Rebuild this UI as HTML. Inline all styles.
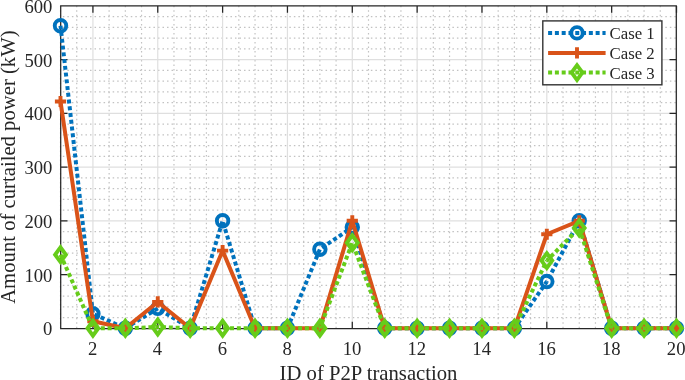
<!DOCTYPE html>
<html><head><meta charset="utf-8"><title>Curtailed power chart</title>
<style>
html,body{margin:0;padding:0;background:#fff;}
body{width:685px;height:380px;overflow:hidden;}
svg{display:block;will-change:transform;filter:blur(0.3px);}
text{font-family:"Liberation Serif",serif;fill:#262626;}
</style></head>
<body>
<svg width="685" height="380" viewBox="0 0 685 380">
<rect width="685" height="380" fill="#fff"/>
<g><path d="M60.50 5.80V328.30M76.71 5.80V328.30M109.13 5.80V328.30M125.34 5.80V328.30M141.55 5.80V328.30M173.97 5.80V328.30M190.18 5.80V328.30M206.39 5.80V328.30M238.82 5.80V328.30M255.03 5.80V328.30M271.24 5.80V328.30M303.66 5.80V328.30M319.87 5.80V328.30M336.08 5.80V328.30M368.50 5.80V328.30M384.71 5.80V328.30M400.92 5.80V328.30M433.34 5.80V328.30M449.55 5.80V328.30M465.76 5.80V328.30M498.18 5.80V328.30M514.39 5.80V328.30M530.61 5.80V328.30M563.03 5.80V328.30M579.24 5.80V328.30M595.45 5.80V328.30M627.87 5.80V328.30M644.08 5.80V328.30M660.29 5.80V328.30" stroke="#c2c2c2" stroke-width="1.2" stroke-dasharray="1.5 3.02" fill="none"/><path d="M60.50 317.55H676.50M60.50 306.80H676.50M60.50 296.05H676.50M60.50 285.30H676.50M60.50 263.80H676.50M60.50 253.05H676.50M60.50 242.30H676.50M60.50 231.55H676.50M60.50 210.05H676.50M60.50 199.30H676.50M60.50 188.55H676.50M60.50 177.80H676.50M60.50 156.30H676.50M60.50 145.55H676.50M60.50 134.80H676.50M60.50 124.05H676.50M60.50 102.55H676.50M60.50 91.80H676.50M60.50 81.05H676.50M60.50 70.30H676.50M60.50 48.80H676.50M60.50 38.05H676.50M60.50 27.30H676.50M60.50 16.55H676.50" stroke="#c2c2c2" stroke-width="1.2" stroke-dasharray="1.5 3.03" stroke-dashoffset="2.2" fill="none"/><path d="M92.92 5.80V328.30M157.76 5.80V328.30M222.61 5.80V328.30M287.45 5.80V328.30M352.29 5.80V328.30M417.13 5.80V328.30M481.97 5.80V328.30M546.82 5.80V328.30M611.66 5.80V328.30M676.50 5.80V328.30M60.50 274.55H676.50M60.50 220.80H676.50M60.50 167.05H676.50M60.50 113.30H676.50M60.50 59.55H676.50" stroke="#dfdfdf" stroke-width="1.2" fill="none"/></g>
<g><path d="M60.7 5.95H676.3V328.5H60.7Z" fill="none" stroke="#262626" stroke-width="1.25"/><path d="M92.92 328.50V321.70M92.92 5.95V12.75M157.76 328.50V321.70M157.76 5.95V12.75M222.61 328.50V321.70M222.61 5.95V12.75M287.45 328.50V321.70M287.45 5.95V12.75M352.29 328.50V321.70M352.29 5.95V12.75M417.13 328.50V321.70M417.13 5.95V12.75M481.97 328.50V321.70M481.97 5.95V12.75M546.82 328.50V321.70M546.82 5.95V12.75M611.66 328.50V321.70M611.66 5.95V12.75M676.50 328.50V321.70M676.50 5.95V12.75M60.70 274.55H67.50M676.30 274.55H669.50M60.70 220.80H67.50M676.30 220.80H669.50M60.70 167.05H67.50M676.30 167.05H669.50M60.70 113.30H67.50M676.30 113.30H669.50M60.70 59.55H67.50M676.30 59.55H669.50" stroke="#262626" stroke-width="1.25" fill="none"/></g>
<g><g fill="none" stroke="#0072BD" stroke-width="4.0" stroke-dasharray="4.0 2.79"><path d="M60.50 25.69L92.92 313.79" stroke-dashoffset="0.32"/><path d="M92.92 313.79L125.34 328.30" stroke-dashoffset="5.06"/><path d="M125.34 328.30L157.76 308.41" stroke-dashoffset="6.63"/><path d="M157.76 308.41L190.18 328.30" stroke-dashoffset="3.92"/><path d="M190.18 328.30L222.61 220.80" stroke-dashoffset="1.22"/><path d="M222.61 220.80L255.03 328.30" stroke-dashoffset="4.86"/><path d="M255.03 328.30L287.45 328.30" stroke-dashoffset="1.71"/><path d="M287.45 328.30L319.87 249.29" stroke-dashoffset="0.18"/><path d="M319.87 249.29L352.29 227.25" stroke-dashoffset="4.11"/><path d="M352.29 227.25L384.71 328.30" stroke-dashoffset="2.57"/><path d="M384.71 328.30L417.13 328.30" stroke-dashoffset="0.06"/><path d="M417.13 328.30L449.55 328.30" stroke-dashoffset="5.32"/><path d="M449.55 328.30L481.97 328.30" stroke-dashoffset="3.79"/><path d="M481.97 328.30L514.39 328.30" stroke-dashoffset="2.26"/><path d="M514.39 328.30L546.82 281.54" stroke-dashoffset="0.73"/><path d="M546.82 281.54L579.24 220.80" stroke-dashoffset="3.31"/><path d="M579.24 220.80L611.66 328.30" stroke-dashoffset="4.26"/><path d="M611.66 328.30L644.08 328.30" stroke-dashoffset="1.11"/><path d="M644.08 328.30L676.50 328.30" stroke-dashoffset="6.37"/></g><circle cx="60.50" cy="25.69" r="5.75" fill="none" stroke="#0072BD" stroke-width="3.9"/><circle cx="92.92" cy="313.79" r="5.75" fill="none" stroke="#0072BD" stroke-width="3.9"/><circle cx="125.34" cy="328.30" r="5.75" fill="none" stroke="#0072BD" stroke-width="3.9"/><circle cx="157.76" cy="308.41" r="5.75" fill="none" stroke="#0072BD" stroke-width="3.9"/><circle cx="190.18" cy="328.30" r="5.75" fill="none" stroke="#0072BD" stroke-width="3.9"/><circle cx="222.61" cy="220.80" r="5.75" fill="none" stroke="#0072BD" stroke-width="3.9"/><circle cx="255.03" cy="328.30" r="5.75" fill="none" stroke="#0072BD" stroke-width="3.9"/><circle cx="287.45" cy="328.30" r="5.75" fill="none" stroke="#0072BD" stroke-width="3.9"/><circle cx="319.87" cy="249.29" r="5.75" fill="none" stroke="#0072BD" stroke-width="3.9"/><circle cx="352.29" cy="227.25" r="5.75" fill="none" stroke="#0072BD" stroke-width="3.9"/><circle cx="384.71" cy="328.30" r="5.75" fill="none" stroke="#0072BD" stroke-width="3.9"/><circle cx="417.13" cy="328.30" r="5.75" fill="none" stroke="#0072BD" stroke-width="3.9"/><circle cx="449.55" cy="328.30" r="5.75" fill="none" stroke="#0072BD" stroke-width="3.9"/><circle cx="481.97" cy="328.30" r="5.75" fill="none" stroke="#0072BD" stroke-width="3.9"/><circle cx="514.39" cy="328.30" r="5.75" fill="none" stroke="#0072BD" stroke-width="3.9"/><circle cx="546.82" cy="281.54" r="5.75" fill="none" stroke="#0072BD" stroke-width="3.9"/><circle cx="579.24" cy="220.80" r="5.75" fill="none" stroke="#0072BD" stroke-width="3.9"/><circle cx="611.66" cy="328.30" r="5.75" fill="none" stroke="#0072BD" stroke-width="3.9"/><circle cx="644.08" cy="328.30" r="5.75" fill="none" stroke="#0072BD" stroke-width="3.9"/><circle cx="676.50" cy="328.30" r="5.75" fill="none" stroke="#0072BD" stroke-width="3.9"/><polyline points="60.50,101.48 92.92,321.31 125.34,328.30 157.76,301.96 190.18,328.30 222.61,250.63 255.03,328.30 287.45,328.30 319.87,328.30 352.29,220.80 384.71,328.30 417.13,328.30 449.55,328.30 481.97,328.30 514.39,328.30 546.82,234.24 579.24,220.80 611.66,328.30 644.08,328.30 676.50,328.30" fill="none" stroke="#D95319" stroke-width="4.0" stroke-linejoin="round"/><path d="M54.90 101.48H66.10M60.50 95.88V107.08" stroke="#D95319" stroke-width="3.9" fill="none"/><path d="M87.32 321.31H98.52M92.92 315.71V326.91" stroke="#D95319" stroke-width="3.9" fill="none"/><path d="M119.74 328.30H130.94M125.34 322.70V333.90" stroke="#D95319" stroke-width="3.9" fill="none"/><path d="M152.16 301.96H163.36M157.76 296.36V307.56" stroke="#D95319" stroke-width="3.9" fill="none"/><path d="M184.58 328.30H195.78M190.18 322.70V333.90" stroke="#D95319" stroke-width="3.9" fill="none"/><path d="M217.01 250.63H228.21M222.61 245.03V256.23" stroke="#D95319" stroke-width="3.9" fill="none"/><path d="M249.43 328.30H260.63M255.03 322.70V333.90" stroke="#D95319" stroke-width="3.9" fill="none"/><path d="M281.85 328.30H293.05M287.45 322.70V333.90" stroke="#D95319" stroke-width="3.9" fill="none"/><path d="M314.27 328.30H325.47M319.87 322.70V333.90" stroke="#D95319" stroke-width="3.9" fill="none"/><path d="M346.69 220.80H357.89M352.29 215.20V226.40" stroke="#D95319" stroke-width="3.9" fill="none"/><path d="M379.11 328.30H390.31M384.71 322.70V333.90" stroke="#D95319" stroke-width="3.9" fill="none"/><path d="M411.53 328.30H422.73M417.13 322.70V333.90" stroke="#D95319" stroke-width="3.9" fill="none"/><path d="M443.95 328.30H455.15M449.55 322.70V333.90" stroke="#D95319" stroke-width="3.9" fill="none"/><path d="M476.37 328.30H487.57M481.97 322.70V333.90" stroke="#D95319" stroke-width="3.9" fill="none"/><path d="M508.79 328.30H519.99M514.39 322.70V333.90" stroke="#D95319" stroke-width="3.9" fill="none"/><path d="M541.22 234.24H552.42M546.82 228.64V239.84" stroke="#D95319" stroke-width="3.9" fill="none"/><path d="M573.64 220.80H584.84M579.24 215.20V226.40" stroke="#D95319" stroke-width="3.9" fill="none"/><path d="M606.06 328.30H617.26M611.66 322.70V333.90" stroke="#D95319" stroke-width="3.9" fill="none"/><path d="M638.48 328.30H649.68M644.08 322.70V333.90" stroke="#D95319" stroke-width="3.9" fill="none"/><path d="M670.90 328.30H682.10M676.50 322.70V333.90" stroke="#D95319" stroke-width="3.9" fill="none"/><g fill="none" stroke="#66CC1A" stroke-width="4.0" stroke-dasharray="4.0 2.805"><path d="M60.50 254.66L92.92 328.30" stroke-dashoffset="0.12"/><path d="M92.92 328.30L125.34 328.30" stroke-dashoffset="5.72"/><path d="M125.34 328.30L157.76 326.96" stroke-dashoffset="4.12"/><path d="M157.76 326.96L190.18 328.30" stroke-dashoffset="2.54"/><path d="M190.18 328.30L222.61 328.30" stroke-dashoffset="0.97"/><path d="M222.61 328.30L255.03 328.30" stroke-dashoffset="6.17"/><path d="M255.03 328.30L287.45 328.30" stroke-dashoffset="4.56"/><path d="M287.45 328.30L319.87 328.30" stroke-dashoffset="2.96"/><path d="M319.87 328.30L352.29 242.73" stroke-dashoffset="1.36"/><path d="M352.29 242.73L384.71 328.30" stroke-dashoffset="4.40"/><path d="M384.71 328.30L417.13 328.30" stroke-dashoffset="0.63"/><path d="M417.13 328.30L449.55 328.30" stroke-dashoffset="5.83"/><path d="M449.55 328.30L481.97 328.30" stroke-dashoffset="4.23"/><path d="M481.97 328.30L514.39 328.30" stroke-dashoffset="2.63"/><path d="M514.39 328.30L546.82 260.58" stroke-dashoffset="1.02"/><path d="M546.82 260.58L579.24 227.95" stroke-dashoffset="1.25"/><path d="M579.24 227.95L611.66 328.30" stroke-dashoffset="6.42"/><path d="M611.66 328.30L644.08 328.30" stroke-dashoffset="3.00"/><path d="M644.08 328.30L676.50 328.30" stroke-dashoffset="1.39"/></g><path d="M60.50 243.96L68.30 254.66L60.50 265.36L52.70 254.66ZM60.50 250.61L57.55 254.66L60.50 258.71L63.45 254.66Z" fill="#66CC1A" fill-rule="evenodd"/><path d="M92.92 317.60L100.72 328.30L92.92 339.00L85.12 328.30ZM92.92 324.25L89.97 328.30L92.92 332.35L95.87 328.30Z" fill="#66CC1A" fill-rule="evenodd"/><path d="M125.34 317.60L133.14 328.30L125.34 339.00L117.54 328.30ZM125.34 324.25L122.39 328.30L125.34 332.35L128.29 328.30Z" fill="#66CC1A" fill-rule="evenodd"/><path d="M157.76 316.26L165.56 326.96L157.76 337.66L149.96 326.96ZM157.76 322.91L154.81 326.96L157.76 331.01L160.71 326.96Z" fill="#66CC1A" fill-rule="evenodd"/><path d="M190.18 317.60L197.98 328.30L190.18 339.00L182.38 328.30ZM190.18 324.25L187.23 328.30L190.18 332.35L193.13 328.30Z" fill="#66CC1A" fill-rule="evenodd"/><path d="M222.61 317.60L230.41 328.30L222.61 339.00L214.81 328.30ZM222.61 324.25L219.66 328.30L222.61 332.35L225.56 328.30Z" fill="#66CC1A" fill-rule="evenodd"/><path d="M255.03 317.60L262.83 328.30L255.03 339.00L247.23 328.30ZM255.03 324.25L252.08 328.30L255.03 332.35L257.98 328.30Z" fill="#66CC1A" fill-rule="evenodd"/><path d="M287.45 317.60L295.25 328.30L287.45 339.00L279.65 328.30ZM287.45 324.25L284.50 328.30L287.45 332.35L290.40 328.30Z" fill="#66CC1A" fill-rule="evenodd"/><path d="M319.87 317.60L327.67 328.30L319.87 339.00L312.07 328.30ZM319.87 324.25L316.92 328.30L319.87 332.35L322.82 328.30Z" fill="#66CC1A" fill-rule="evenodd"/><path d="M352.29 232.03L360.09 242.73L352.29 253.43L344.49 242.73ZM352.29 238.68L349.34 242.73L352.29 246.78L355.24 242.73Z" fill="#66CC1A" fill-rule="evenodd"/><path d="M384.71 317.60L392.51 328.30L384.71 339.00L376.91 328.30ZM384.71 324.25L381.76 328.30L384.71 332.35L387.66 328.30Z" fill="#66CC1A" fill-rule="evenodd"/><path d="M417.13 317.60L424.93 328.30L417.13 339.00L409.33 328.30ZM417.13 324.25L414.18 328.30L417.13 332.35L420.08 328.30Z" fill="#66CC1A" fill-rule="evenodd"/><path d="M449.55 317.60L457.35 328.30L449.55 339.00L441.75 328.30ZM449.55 324.25L446.60 328.30L449.55 332.35L452.50 328.30Z" fill="#66CC1A" fill-rule="evenodd"/><path d="M481.97 317.60L489.77 328.30L481.97 339.00L474.17 328.30ZM481.97 324.25L479.02 328.30L481.97 332.35L484.92 328.30Z" fill="#66CC1A" fill-rule="evenodd"/><path d="M514.39 317.60L522.19 328.30L514.39 339.00L506.59 328.30ZM514.39 324.25L511.44 328.30L514.39 332.35L517.34 328.30Z" fill="#66CC1A" fill-rule="evenodd"/><path d="M546.82 249.88L554.62 260.58L546.82 271.28L539.02 260.58ZM546.82 256.53L543.87 260.58L546.82 264.63L549.77 260.58Z" fill="#66CC1A" fill-rule="evenodd"/><path d="M579.24 217.25L587.04 227.95L579.24 238.65L571.44 227.95ZM579.24 223.90L576.29 227.95L579.24 232.00L582.19 227.95Z" fill="#66CC1A" fill-rule="evenodd"/><path d="M611.66 317.60L619.46 328.30L611.66 339.00L603.86 328.30ZM611.66 324.25L608.71 328.30L611.66 332.35L614.61 328.30Z" fill="#66CC1A" fill-rule="evenodd"/><path d="M644.08 317.60L651.88 328.30L644.08 339.00L636.28 328.30ZM644.08 324.25L641.13 328.30L644.08 332.35L647.03 328.30Z" fill="#66CC1A" fill-rule="evenodd"/><path d="M676.50 317.60L684.30 328.30L676.50 339.00L668.70 328.30ZM676.50 324.25L673.55 328.30L676.50 332.35L679.45 328.30Z" fill="#66CC1A" fill-rule="evenodd"/></g>
<g font-size="18.67"><text x="52.4" y="335.30" text-anchor="end">0</text><text x="52.4" y="281.55" text-anchor="end">100</text><text x="52.4" y="227.80" text-anchor="end">200</text><text x="52.4" y="174.05" text-anchor="end">300</text><text x="52.4" y="120.30" text-anchor="end">400</text><text x="52.4" y="66.55" text-anchor="end">500</text><text x="52.4" y="12.80" text-anchor="end">600</text><text x="92.62" y="354.6" text-anchor="middle">2</text><text x="157.46" y="354.6" text-anchor="middle">4</text><text x="222.31" y="354.6" text-anchor="middle">6</text><text x="287.15" y="354.6" text-anchor="middle">8</text><text x="351.99" y="354.6" text-anchor="middle">10</text><text x="416.83" y="354.6" text-anchor="middle">12</text><text x="481.67" y="354.6" text-anchor="middle">14</text><text x="546.52" y="354.6" text-anchor="middle">16</text><text x="611.36" y="354.6" text-anchor="middle">18</text><text x="676.20" y="354.6" text-anchor="middle">20</text></g>
<g><text x="368.50" y="379.6" text-anchor="middle" font-size="20.7">ID of P2P transaction</text><text transform="translate(15.1 167.1) rotate(-90)" text-anchor="middle" font-size="20.7">Amount of curtailed power (kW)</text></g>
<g><rect x="542.8" y="20.9" width="119.10" height="63.90" fill="#fff" stroke="#333" stroke-width="1.4"/><line x1="548.1" y1="32.9" x2="605.6" y2="32.9" stroke="#0072BD" stroke-width="4.0" stroke-dasharray="4.0 2.79"/><circle cx="577.00" cy="32.90" r="5.75" fill="none" stroke="#0072BD" stroke-width="3.9"/><line x1="548.1" y1="52.9" x2="605.6" y2="52.9" stroke="#D95319" stroke-width="4.0"/><path d="M571.40 52.90H582.60M577.00 47.30V58.50" stroke="#D95319" stroke-width="3.9" fill="none"/><line x1="548.1" y1="72.6" x2="605.6" y2="72.6" stroke="#66CC1A" stroke-width="4.0" stroke-dasharray="4.0 2.79"/><path d="M577.00 61.90L584.80 72.60L577.00 83.30L569.20 72.60ZM577.00 68.55L574.05 72.60L577.00 76.65L579.95 72.60Z" fill="#66CC1A" fill-rule="evenodd"/><text x="609.5" y="39.00" font-size="16.8">Case 1</text><text x="609.5" y="59.00" font-size="16.8">Case 2</text><text x="609.5" y="78.70" font-size="16.8">Case 3</text></g>
</svg>
</body></html>
